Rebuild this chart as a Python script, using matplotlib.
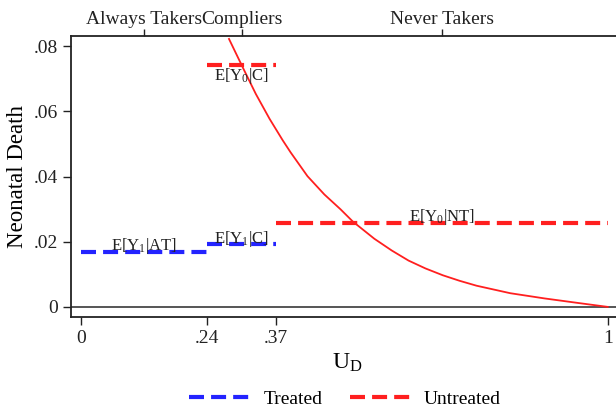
import numpy as np
import matplotlib
matplotlib.use("Agg")
import matplotlib.pyplot as plt

plt.rcParams['font.family'] = ['Liberation Serif', 'DejaVu Serif']
plt.rcParams['mathtext.fontset'] = 'custom'
plt.rcParams['mathtext.rm'] = 'Liberation Serif'
plt.rcParams['mathtext.it'] = 'Liberation Serif:italic'

# group cutoffs on U_D
cutoffs = [0.0, 0.24, 0.37, 1.0]
xtick_labels = ['0', '.24', '.37', '1']

# mean outcomes by group
treated_means = [0.0168, 0.0193]      # E[Y1|AT], E[Y1|C]
untreated_means = [0.0742, 0.0257]    # E[Y0|C], E[Y0|NT]

# MTE-type curve for untreated outcome
curve_u = [0.281, 0.307, 0.332, 0.358, 0.383, 0.398, 0.430, 0.462, 0.493, 0.516,
           0.557, 0.590, 0.622, 0.654, 0.687, 0.719, 0.751, 0.815, 0.880, 0.944, 1.0]
curve_y = [0.0822, 0.0735, 0.0653, 0.0577, 0.0511, 0.0474, 0.0401, 0.0345, 0.0299, 0.0262,
           0.0209, 0.0173, 0.0142, 0.0118, 0.0097, 0.0080, 0.0065, 0.0042, 0.0026, 0.0012, 0.0]

yticks = [0, 0.02, 0.04, 0.06, 0.08]
ytick_labels = ['0', '.02', '.04', '.06', '.08']

groups = ['Always Takers', 'Compliers', 'Never Takers']

blue = '#2323ff'
red = '#ff1f1f'
dash = (3.6, 1.7)

fig = plt.figure(figsize=(6.16, 4.08), dpi=100)
ax = fig.add_axes([71 / 616, 1 - 317 / 408, 553 / 616, 281 / 408])

ax.axhline(0, color='#555555', lw=1.4, zorder=1)

# treated: AT and compliers
ax.plot(cutoffs[0:2], [treated_means[0]] * 2, color=blue, lw=3, dashes=dash, label='Treated')
ax.plot(cutoffs[1:3], [treated_means[1]] * 2, color=blue, lw=3, dashes=dash)
# untreated: compliers and NT
ax.plot(cutoffs[1:3], [untreated_means[0]] * 2, color=red, lw=3, dashes=dash, label='Untreated')
ax.plot(cutoffs[2:4], [untreated_means[1]] * 2, color=red, lw=3, dashes=dash)
ax.plot(curve_u, curve_y, color=red, lw=1.3)

mid = [(cutoffs[i] + cutoffs[i + 1]) / 2 for i in range(3)]
labels = [
    (r'E[Y$_1$|AT]', mid[0], treated_means[0], 6),
    (r'E[Y$_1$|C]', mid[1], treated_means[1], 5),
    (r'E[Y$_0$|C]', mid[1], untreated_means[0], -11),
    (r'E[Y$_0$|NT]', mid[2], untreated_means[1], 6),
]
for txt, x, y, dy in labels:
    ax.annotate(txt, xy=(x, y), xytext=(0, dy), textcoords='offset pixels',
                ha='center', va='center', fontsize=12, color='#222222')

ax.set_xlim(-0.019, 1.031)
ax.set_ylim(-0.0031, 0.0831)
ax.set_xticks(cutoffs)
ax.set_xticklabels(xtick_labels)
ax.set_yticks(yticks)
ax.set_yticklabels(ytick_labels)
ax.tick_params(labelsize=14, direction='out', length=6, width=1, colors='#222222')
ax.set_xlabel(r'U$_\mathrm{D}$', fontsize=17, labelpad=3)
ax.set_ylabel('Neonatal Death', fontsize=16.5, labelpad=4)
ax.spines['right'].set_visible(False)
for s in ['left', 'bottom', 'top']:
    ax.spines[s].set_linewidth(1.3)
    ax.spines[s].set_color('#222222')

# group names on top axis
top = ax.twiny()
top.set_xlim(ax.get_xlim())
top.set_xticks(mid)
top.set_xticklabels(groups)
top.tick_params(labelsize=14, direction='out', length=5, width=1, pad=1, colors='#222222')
for s in top.spines.values():
    s.set_visible(False)

fig.legend(loc='center', bbox_to_anchor=(0.56, 0.022), ncol=2, frameon=False,
           fontsize=14, handlelength=3.2, columnspacing=1.4, handletextpad=0.6)

fig.savefig('out.png', dpi=100)
